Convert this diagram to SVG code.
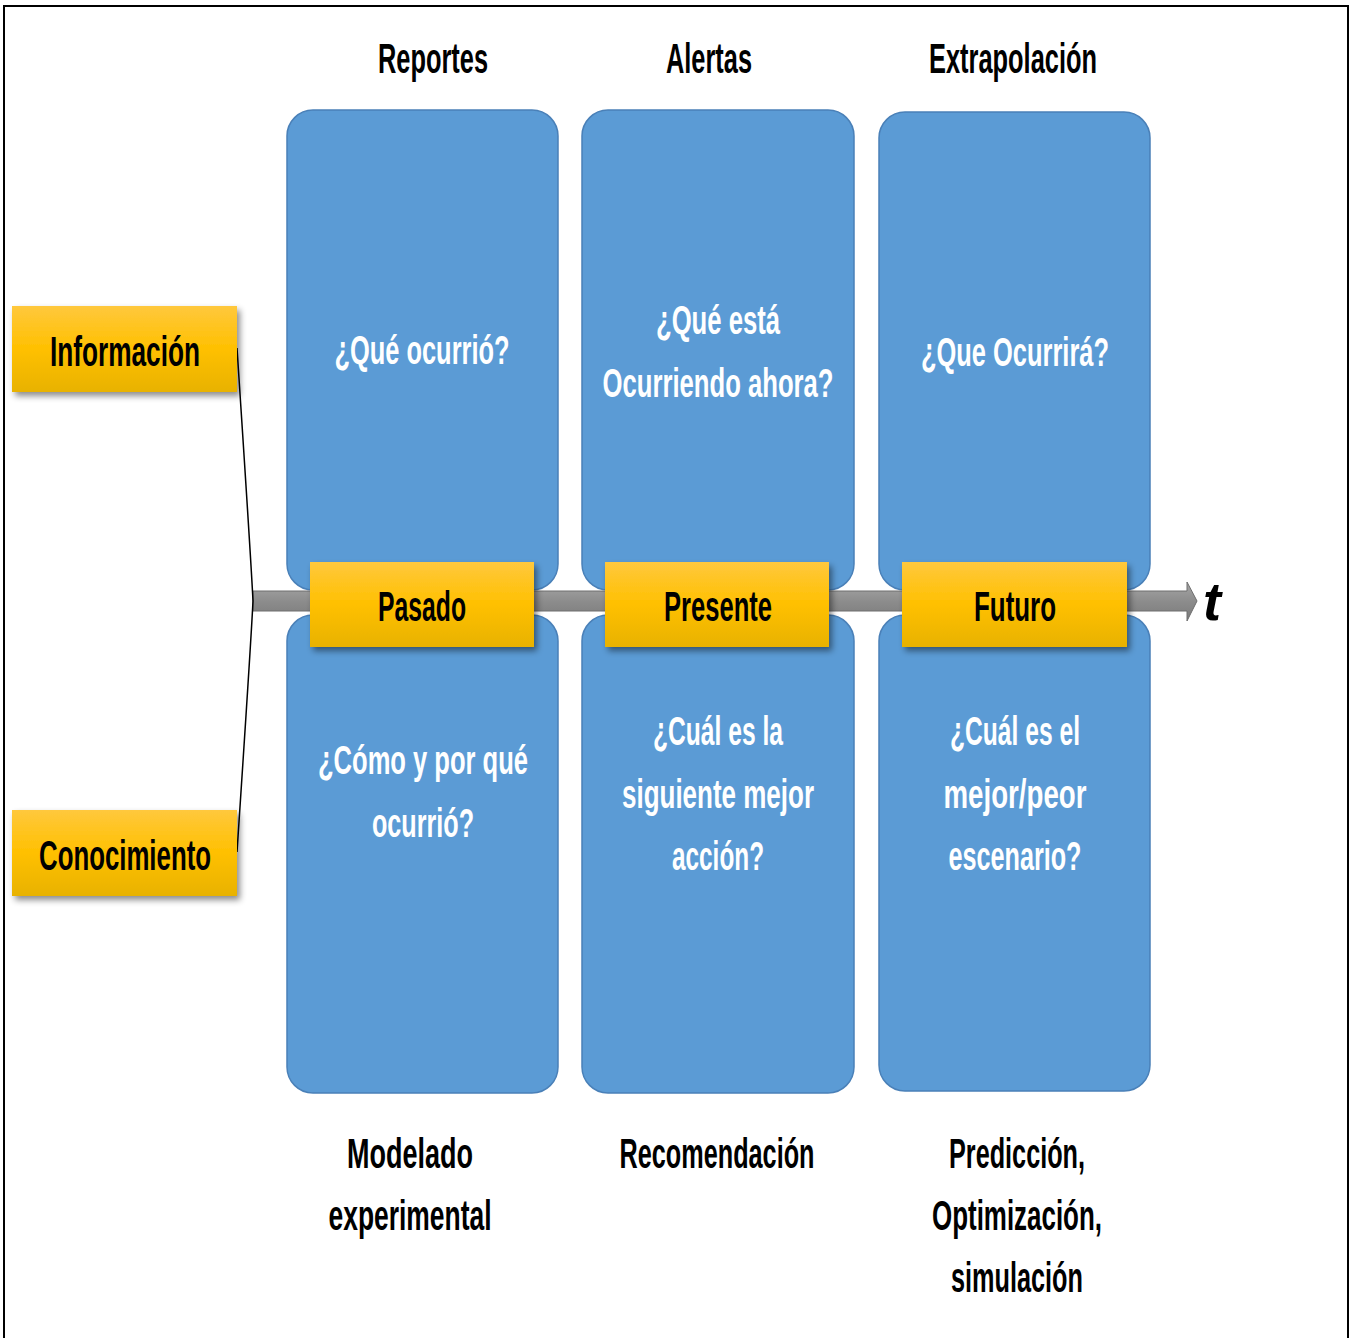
<svg xmlns="http://www.w3.org/2000/svg" width="1357" height="1338" viewBox="0 0 1357 1338">
<defs>
<linearGradient id="gy" x1="0" y1="0" x2="0" y2="1">
<stop offset="0" stop-color="#FFC83D"/>
<stop offset="0.5" stop-color="#FFC000"/>
<stop offset="1" stop-color="#E8B200"/>
</linearGradient>
<linearGradient id="gg" x1="0" y1="0" x2="0" y2="1">
<stop offset="0" stop-color="#A6A6A6"/>
<stop offset="0.5" stop-color="#8C8C8C"/>
<stop offset="1" stop-color="#7A7A7A"/>
</linearGradient>
<filter id="sh" x="-10%" y="-20%" width="125%" height="150%">
<feDropShadow dx="3" dy="4" stdDeviation="3" flood-color="#000" flood-opacity="0.45"/>
</filter>
</defs>
<style>
.blue{fill:#5B9BD5;stroke:#4A80B8;stroke-width:1.5}
.yel{fill:url(#gy);filter:url(#sh)}
.w{font-family:"Liberation Sans",Arial,sans-serif;font-size:40px;font-weight:bold;fill:#fff;text-anchor:middle}
.b{font-family:"Liberation Sans",Arial,sans-serif;font-size:42px;font-weight:bold;fill:#000;text-anchor:middle}
.y{font-family:"Liberation Sans",Arial,sans-serif;font-size:42px;font-weight:bold;fill:#000;text-anchor:middle}
</style>
<rect x="0" y="0" width="1357" height="1338" fill="#fff"/>
<rect x="4" y="6" width="1344" height="1340" fill="none" stroke="#000" stroke-width="2"/>

<g id="headers">
<text class="b" x="433" y="73" textLength="110" lengthAdjust="spacingAndGlyphs">Reportes</text>
<text class="b" x="709" y="73" textLength="86" lengthAdjust="spacingAndGlyphs">Alertas</text>
<text class="b" x="1013" y="73" textLength="168" lengthAdjust="spacingAndGlyphs">Extrapolación</text>
</g>

<g id="box-pasado-top"><rect class="blue" x="287" y="110" width="271" height="480" rx="26"/>
<text class="w" x="422" y="364" textLength="175" lengthAdjust="spacingAndGlyphs">¿Qué ocurrió?</text></g>
<g id="box-presente-top"><rect class="blue" x="582" y="110" width="272" height="480" rx="26"/>
<text class="w" x="718" y="334" textLength="124" lengthAdjust="spacingAndGlyphs">¿Qué está</text>
<text class="w" x="718" y="397" textLength="231" lengthAdjust="spacingAndGlyphs">Ocurriendo ahora?</text></g>
<g id="box-futuro-top"><rect class="blue" x="879" y="112" width="271" height="478" rx="26"/>
<text class="w" x="1015" y="366" textLength="188" lengthAdjust="spacingAndGlyphs">¿Que Ocurrirá?</text></g>

<g id="box-pasado-bottom"><rect class="blue" x="287" y="615" width="271" height="478" rx="26"/>
<text class="w" x="423" y="774" textLength="210" lengthAdjust="spacingAndGlyphs">¿Cómo y por qué</text>
<text class="w" x="423" y="837" textLength="102" lengthAdjust="spacingAndGlyphs">ocurrió?</text></g>
<g id="box-presente-bottom"><rect class="blue" x="582" y="615" width="272" height="478" rx="26"/>
<text class="w" x="718" y="745" textLength="130" lengthAdjust="spacingAndGlyphs">¿Cuál es la</text>
<text class="w" x="718" y="808" textLength="192" lengthAdjust="spacingAndGlyphs">siguiente mejor</text>
<text class="w" x="718" y="870" textLength="92" lengthAdjust="spacingAndGlyphs">acción?</text></g>
<g id="box-futuro-bottom"><rect class="blue" x="879" y="615" width="271" height="476" rx="26"/>
<text class="w" x="1015" y="745" textLength="130" lengthAdjust="spacingAndGlyphs">¿Cuál es el</text>
<text class="w" x="1015" y="808" textLength="143" lengthAdjust="spacingAndGlyphs">mejor/peor</text>
<text class="w" x="1015" y="870" textLength="133" lengthAdjust="spacingAndGlyphs">escenario?</text></g>

<g id="connectors">
<polygon points="253,591 1187,591 1187,582 1197,601 1187,621 1187,611 253,611" fill="url(#gg)" stroke="#6E6E6E" stroke-width="1"/>
<path d="M237,348 Q251,560 253,601 Q251,642 237,852" fill="none" stroke="#000" stroke-width="1.5"/>
</g>
<text x="1212" y="620" font-family="Liberation Sans,Arial,sans-serif" font-size="54" font-weight="bold" font-style="italic" text-anchor="middle">t</text>

<g id="pasado"><rect class="yel" x="310" y="562" width="224" height="85"/>
<text class="y" x="422" y="621" textLength="88" lengthAdjust="spacingAndGlyphs">Pasado</text></g>
<g id="presente"><rect class="yel" x="605" y="562" width="224" height="85"/>
<text class="y" x="718" y="621" textLength="108" lengthAdjust="spacingAndGlyphs">Presente</text></g>
<g id="futuro"><rect class="yel" x="902" y="562" width="225" height="85"/>
<text class="y" x="1015" y="621" textLength="82" lengthAdjust="spacingAndGlyphs">Futuro</text></g>

<g id="informacion"><rect class="yel" x="12" y="306" width="225" height="86"/>
<text class="y" x="125" y="366" textLength="150" lengthAdjust="spacingAndGlyphs">Información</text></g>
<g id="conocimiento"><rect class="yel" x="12" y="810" width="225" height="86"/>
<text class="y" x="125" y="870" textLength="172" lengthAdjust="spacingAndGlyphs">Conocimiento</text></g>

<g id="footers">
<text class="b" x="410" y="1168" textLength="126" lengthAdjust="spacingAndGlyphs">Modelado</text>
<text class="b" x="410" y="1230" textLength="163" lengthAdjust="spacingAndGlyphs">experimental</text>
<text class="b" x="717" y="1168" textLength="195" lengthAdjust="spacingAndGlyphs">Recomendación</text>
<text class="b" x="1017" y="1168" textLength="136" lengthAdjust="spacingAndGlyphs">Predicción,</text>
<text class="b" x="1017" y="1230" textLength="170" lengthAdjust="spacingAndGlyphs">Optimización,</text>
<text class="b" x="1017" y="1292" textLength="132" lengthAdjust="spacingAndGlyphs">simulación</text>
</g>
</svg>
